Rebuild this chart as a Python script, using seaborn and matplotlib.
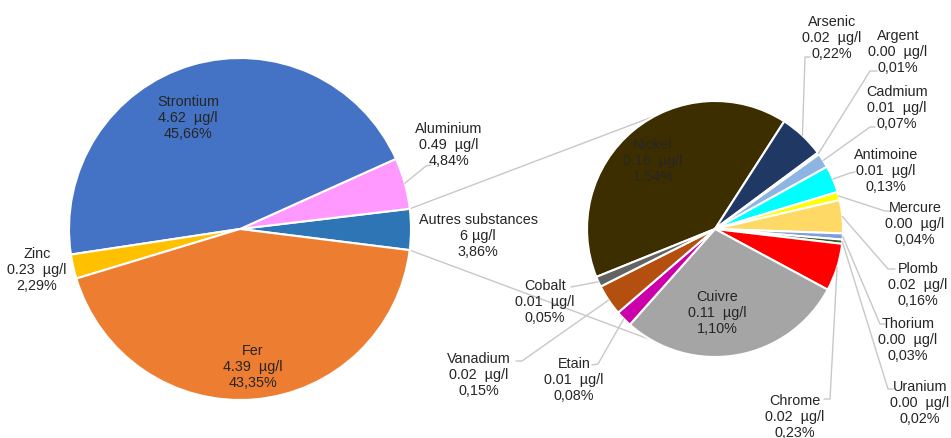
import numpy as np
import matplotlib
matplotlib.use("Agg")
import matplotlib.pyplot as plt
import seaborn as sns

# main pie (counter-clockwise from the "Autres" slice)
main_names = ["Autres substances", "Aluminium", "Strontium", "Zinc", "Fer"]
main_conc = ["6 µg/l", "0.49  µg/l", "4.62  µg/l", "0.23  µg/l", "4.39  µg/l"]
main_pct = [3.86, 4.84, 45.66, 2.29, 43.35]
main_colors = ["#2e75b6", "#ff99ff", "#4472c4", "#ffc000", "#ed7d31"]

# detail of "Autres substances" (clockwise from Nickel)
sub_names = ["Nickel", "Arsenic", "Argent", "Cadmium", "Antimoine", "Mercure", "Plomb",
             "Thorium", "Uranium", "Chrome", "Cuivre", "Etain", "Vanadium", "Cobalt"]
sub_conc = [0.16, 0.02, 0.00, 0.01, 0.01, 0.00, 0.02, 0.00, 0.00, 0.02, 0.11, 0.01, 0.02, 0.01]
sub_pct = [1.54, 0.22, 0.01, 0.07, 0.13, 0.04, 0.16, 0.03, 0.02, 0.23, 1.10, 0.08, 0.15, 0.05]
sub_colors = ["#3d2e00", "#203864", "#548235", "#8db4e2", "#00ffff", "#ffff00", "#ffd966",
              "#7f9fdc", "#375623", "#ff0000", "#a5a5a5", "#cc00aa", "#b4500f", "#636363"]

sns.set_theme(style="white")
plt.rcParams["font.family"] = ["Liberation Sans", "DejaVu Sans"]

W, H = 951, 439
TXT = "#262626"
LINE = "#c8c8c8"
FS = 10.4


def px(x, y):
    return (x, H - y)


def pct_str(p):
    return f"{p:.2f}%".replace(".", ",")


# label layout: (x, y of middle line) and leader elbow points, pixel coords
main_layout = {
    "Autres substances": ((478, 236), None),
    "Aluminium": ((449, 145), [(426, 167), (431, 166)]),
    "Strontium": ((188, 118), None),
    "Zinc": ((37, 270), None),
    "Fer": ((253, 367), None),
}
sub_layout = {
    "Nickel": ((653, 161), None),
    "Arsenic": ((832, 38), [(805, 58), (810, 58)]),
    "Argent": ((898, 52), [(870, 72), (877, 72)]),
    "Cadmium": ((897, 108), [(870, 128), (875, 128)]),
    "Antimoine": ((886, 171), [(850, 174), (855, 173)]),
    "Mercure": ((915, 224), [(885, 212), (890, 212)]),
    "Plomb": ((918, 285), [(888, 270), (895, 270)]),
    "Thorium": ((908, 340), [(880, 325), (885, 325)]),
    "Uranium": ((920, 403), [(888, 390), (893, 390)]),
    "Chrome": ((795, 417), [(830, 400), (824, 400)]),
    "Cuivre": ((717, 313), None),
    "Etain": ((574, 380), [(598, 365), (592, 366)]),
    "Vanadium": ((479, 375), [(522, 362), (516, 362)]),
    "Cobalt": ((545, 302), [(571, 288)]),
}

main_center, main_r = px(240, 230), 171
sub_center, sub_r = px(715, 230), 128

fig, ax = plt.subplots(figsize=(W / 100, H / 100), dpi=100)
fig.subplots_adjust(0, 0, 1, 1)

wp = dict(edgecolor="white", linewidth=1.5)
main_wedges, _ = ax.pie(main_pct, colors=main_colors, startangle=-7.1, counterclock=True,
                        center=main_center, radius=main_r, wedgeprops=wp)
sub_wedges, _ = ax.pie(sub_pct, colors=sub_colors, startangle=202, counterclock=False,
                       center=sub_center, radius=sub_r, wedgeprops=wp)


def on_circle(c, r, ang):
    a = np.deg2rad(ang)
    return (c[0] + r * np.cos(a), c[1] + r * np.sin(a))


# connector lines between the "Autres" slice and the detail pie
autres = main_wedges[0]
for a_main, a_sub in [(autres.theta2, 118), (autres.theta1, 240)]:
    p0 = on_circle(main_center, main_r, a_main)
    p1 = on_circle(sub_center, sub_r, a_sub)
    ax.plot([p0[0], p1[0]], [p0[1], p1[1]], color=LINE, lw=1, zorder=0.5)


def draw_labels(wedges, names, concs, pcts, layout, center, r):
    for w, name, conc, p in zip(wedges, names, concs, pcts):
        (lx, ly), leader = layout[name]
        text = f"{name}\n{conc}\n{pct_str(p)}"
        ax.text(*px(lx, ly), text, ha="center", va="center", fontsize=FS,
                color=TXT, linespacing=1.2, zorder=5)
        if leader:
            mid = (w.theta1 + w.theta2) / 2
            pts = [on_circle(center, r, mid)] + [px(x, y) for x, y in leader]
            xs, ys = zip(*pts)
            ax.plot(xs, ys, color=LINE, lw=1, zorder=4)


draw_labels(main_wedges, main_names, main_conc, main_pct, main_layout, main_center, main_r)
sub_conc_txt = [f"{c:.2f}  µg/l" for c in sub_conc]
draw_labels(sub_wedges, sub_names, sub_conc_txt, sub_pct, sub_layout, sub_center, sub_r)

ax.set_xlim(0, W)
ax.set_ylim(0, H)
ax.set_aspect("equal")
ax.axis("off")

fig.savefig("out.png", dpi=100)
plt.close(fig)
